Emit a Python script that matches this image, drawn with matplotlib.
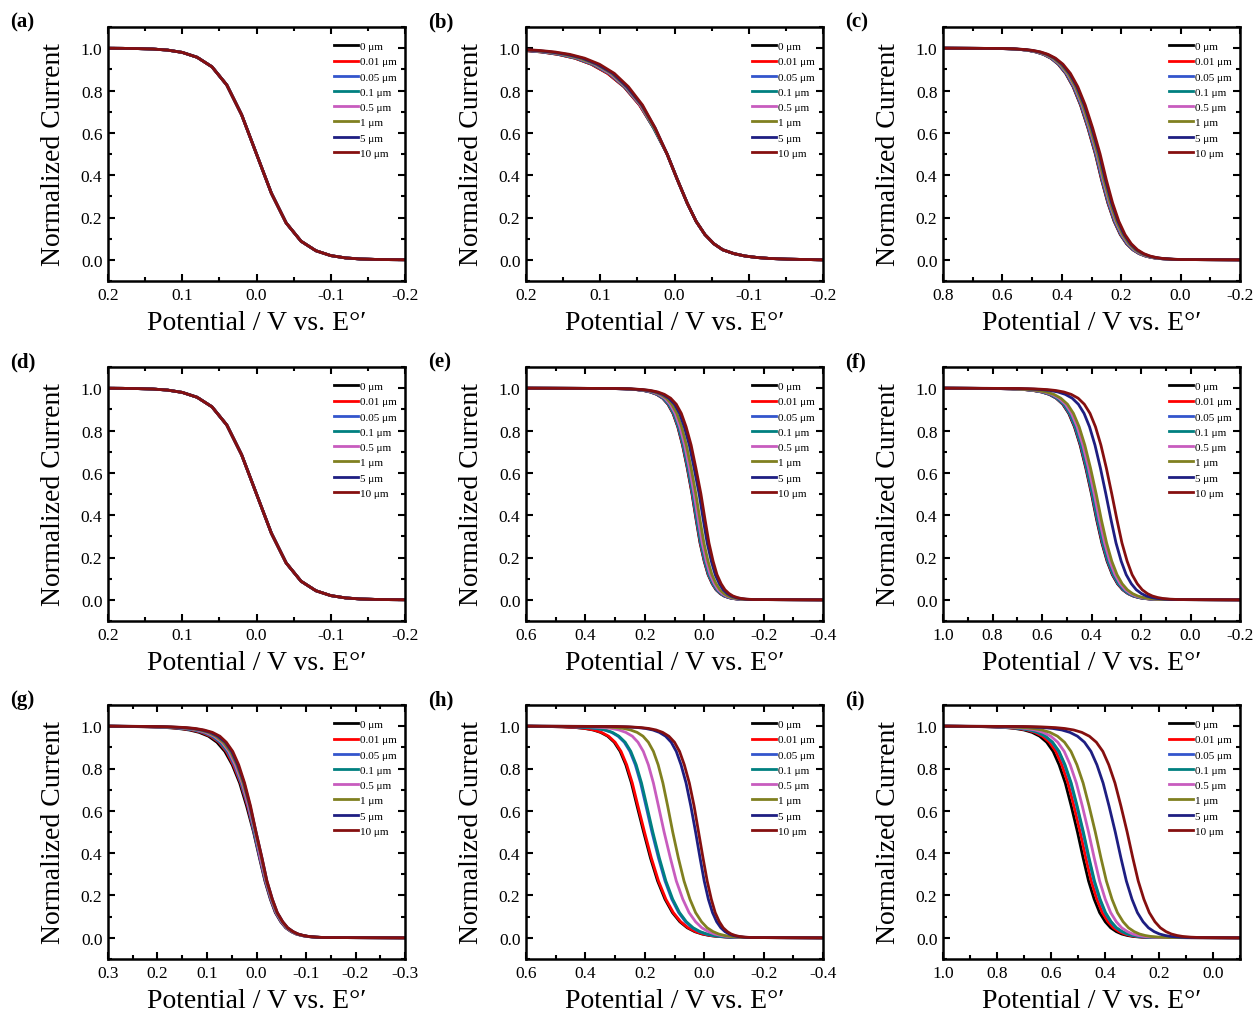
import matplotlib
matplotlib.use('Agg')
import matplotlib.pyplot as plt
from matplotlib.ticker import MultipleLocator, FuncFormatter

plt.rcParams['font.family'] = ['Liberation Serif', 'DejaVu Serif']
plt.rcParams['axes.unicode_minus'] = False

# ---------------- series ----------------
labels = ['0 μm', '0.01 μm', '0.05 μm', '0.1 μm', '0.5 μm', '1 μm', '5 μm', '10 μm']
colors = ['#000000', '#FF0000', '#3355CC', '#008080', '#C85CBE', '#808020', '#1E1E82', '#850F0F']

# ---------------- panel (a): potential grid / current (all eight series coincide) ----------------
pot_a = [0.20, 0.18, 0.16, 0.14, 0.12, 0.10, 0.08, 0.06, 0.04, 0.02, 0.00,
         -0.02, -0.04, -0.06, -0.08, -0.10, -0.12, -0.14, -0.16, -0.18, -0.20]
cur_a = [0.9996, 0.9991, 0.998, 0.996, 0.991, 0.980, 0.957, 0.912, 0.826, 0.685, 0.500,
         0.315, 0.174, 0.088, 0.043, 0.020, 0.009, 0.004, 0.002, 0.001, 0.0004]

# ---------------- panel (d): potential grid / current (all eight series coincide) ----------------
pot_d = [0.20, 0.18, 0.16, 0.14, 0.12, 0.10, 0.08, 0.06, 0.04, 0.02, 0.00,
         -0.02, -0.04, -0.06, -0.08, -0.10, -0.12, -0.14, -0.16, -0.18, -0.20]
cur_d = [0.9996, 0.9991, 0.998, 0.996, 0.991, 0.980, 0.957, 0.912, 0.826, 0.685, 0.500,
         0.315, 0.174, 0.088, 0.043, 0.020, 0.009, 0.004, 0.002, 0.001, 0.0004]

# ---------------- other panels: current levels and the potential (V) of each series at them ----------------
levels = [1.0, 0.9985, 0.9968, 0.9933, 0.9890, 0.9820, 0.9707, 0.9526, 0.9241, 0.8808, 0.8176, 0.7311, 0.6225,
          0.5, 0.3775, 0.2689, 0.1824, 0.1192, 0.0759, 0.0474, 0.0293, 0.0180, 0.0110, 0.0067, 0.0032, 0.0015, 0.0]
levels_b = levels[1:]

pot_b = [
    [0.291, 0.258, 0.224, 0.202, 0.179, 0.157, 0.134, 0.112, 0.090, 0.068, 0.047, 0.028, 0.010,
     -0.004, -0.017, -0.029, -0.041, -0.053, -0.065, -0.080, -0.095, -0.111, -0.127, -0.152, -0.177, -0.2],
    [0.291, 0.258, 0.224, 0.202, 0.179, 0.157, 0.134, 0.112, 0.090, 0.068, 0.047, 0.028, 0.010,
     -0.004, -0.017, -0.029, -0.041, -0.053, -0.065, -0.080, -0.095, -0.111, -0.127, -0.152, -0.177, -0.2],
    [0.286, 0.253, 0.220, 0.198, 0.176, 0.154, 0.132, 0.110, 0.088, 0.067, 0.046, 0.028, 0.010,
     -0.004, -0.017, -0.029, -0.041, -0.053, -0.065, -0.080, -0.095, -0.111, -0.127, -0.152, -0.177, -0.2],
    [0.286, 0.253, 0.220, 0.198, 0.176, 0.154, 0.132, 0.110, 0.088, 0.067, 0.046, 0.028, 0.010,
     -0.004, -0.017, -0.029, -0.041, -0.053, -0.065, -0.080, -0.095, -0.111, -0.127, -0.152, -0.177, -0.2],
    [0.281, 0.249, 0.216, 0.195, 0.173, 0.151, 0.130, 0.108, 0.087, 0.066, 0.046, 0.027, 0.010,
     -0.004, -0.017, -0.029, -0.041, -0.053, -0.065, -0.080, -0.095, -0.111, -0.127, -0.152, -0.177, -0.2],
    [0.276, 0.244, 0.212, 0.191, 0.170, 0.149, 0.128, 0.106, 0.085, 0.065, 0.045, 0.027, 0.010,
     -0.004, -0.017, -0.029, -0.041, -0.053, -0.065, -0.080, -0.095, -0.111, -0.127, -0.152, -0.177, -0.2],
    [0.269, 0.238, 0.207, 0.186, 0.166, 0.145, 0.124, 0.104, 0.083, 0.064, 0.044, 0.026, 0.010,
     -0.004, -0.017, -0.029, -0.041, -0.053, -0.065, -0.080, -0.095, -0.111, -0.127, -0.152, -0.177, -0.2],
    [0.261, 0.231, 0.201, 0.181, 0.161, 0.141, 0.121, 0.101, 0.081, 0.062, 0.043, 0.026, 0.010,
     -0.004, -0.017, -0.029, -0.041, -0.053, -0.065, -0.080, -0.095, -0.111, -0.127, -0.152, -0.177, -0.2],
]

pot_c = [
    [0.8, 0.612, 0.575, 0.537, 0.512, 0.487, 0.462, 0.437, 0.412, 0.387, 0.362, 0.337, 0.312, 0.287,
     0.266, 0.245, 0.224, 0.203, 0.182, 0.161, 0.140, 0.119, 0.098, 0.077, 0.045, 0.014, -0.2],
    [0.8, 0.611, 0.574, 0.536, 0.511, 0.486, 0.461, 0.436, 0.411, 0.386, 0.361, 0.336, 0.311, 0.286,
     0.265, 0.244, 0.223, 0.202, 0.181, 0.160, 0.139, 0.118, 0.097, 0.076, 0.044, 0.013, -0.2],
    [0.8, 0.610, 0.573, 0.535, 0.510, 0.485, 0.460, 0.435, 0.410, 0.385, 0.360, 0.335, 0.310, 0.285,
     0.264, 0.243, 0.222, 0.201, 0.180, 0.159, 0.138, 0.117, 0.096, 0.075, 0.043, 0.012, -0.2],
    [0.8, 0.609, 0.572, 0.534, 0.509, 0.484, 0.459, 0.434, 0.409, 0.384, 0.359, 0.334, 0.309, 0.284,
     0.263, 0.242, 0.221, 0.200, 0.179, 0.158, 0.137, 0.116, 0.095, 0.074, 0.042, 0.011, -0.2],
    [0.8, 0.607, 0.570, 0.532, 0.507, 0.482, 0.457, 0.432, 0.407, 0.382, 0.357, 0.332, 0.307, 0.282,
     0.261, 0.240, 0.219, 0.198, 0.177, 0.156, 0.135, 0.114, 0.093, 0.072, 0.040, 0.009, -0.2],
    [0.8, 0.604, 0.567, 0.529, 0.504, 0.479, 0.454, 0.429, 0.404, 0.379, 0.354, 0.329, 0.304, 0.279,
     0.258, 0.237, 0.216, 0.195, 0.174, 0.153, 0.132, 0.111, 0.090, 0.069, 0.037, 0.006, -0.2],
    [0.8, 0.599, 0.562, 0.524, 0.499, 0.474, 0.449, 0.424, 0.399, 0.374, 0.349, 0.324, 0.299, 0.274,
     0.253, 0.232, 0.211, 0.190, 0.169, 0.148, 0.127, 0.106, 0.085, 0.064, 0.032, 0.001, -0.2],
    [0.8, 0.596, 0.559, 0.521, 0.496, 0.471, 0.446, 0.421, 0.396, 0.371, 0.346, 0.321, 0.296, 0.271,
     0.250, 0.229, 0.208, 0.187, 0.166, 0.145, 0.124, 0.103, 0.082, 0.061, 0.029, -0.002, -0.2],
]

pot_e = [
    [0.6, 0.314, 0.270, 0.230, 0.205, 0.182, 0.160, 0.140, 0.122, 0.105, 0.089, 0.073, 0.057, 0.041,
     0.027, 0.014, 0.000, -0.013, -0.027, -0.040, -0.054, -0.067, -0.081, -0.094, -0.114, -0.135, -0.4],
    [0.6, 0.313, 0.269, 0.229, 0.204, 0.181, 0.159, 0.139, 0.121, 0.104, 0.088, 0.072, 0.056, 0.040,
     0.026, 0.013, -0.001, -0.014, -0.028, -0.041, -0.055, -0.068, -0.082, -0.095, -0.115, -0.136, -0.4],
    [0.6, 0.312, 0.268, 0.228, 0.203, 0.180, 0.158, 0.138, 0.120, 0.103, 0.087, 0.071, 0.055, 0.039,
     0.025, 0.012, -0.002, -0.015, -0.029, -0.042, -0.056, -0.069, -0.083, -0.096, -0.116, -0.137, -0.4],
    [0.6, 0.311, 0.267, 0.227, 0.202, 0.179, 0.157, 0.137, 0.119, 0.102, 0.086, 0.070, 0.054, 0.038,
     0.024, 0.011, -0.003, -0.016, -0.030, -0.043, -0.057, -0.070, -0.084, -0.097, -0.117, -0.138, -0.4],
    [0.6, 0.307, 0.263, 0.223, 0.198, 0.175, 0.153, 0.133, 0.115, 0.098, 0.082, 0.066, 0.050, 0.034,
     0.020, 0.007, -0.007, -0.020, -0.034, -0.047, -0.061, -0.074, -0.088, -0.101, -0.121, -0.142, -0.4],
    [0.6, 0.301, 0.257, 0.217, 0.192, 0.169, 0.147, 0.127, 0.109, 0.092, 0.076, 0.060, 0.044, 0.028,
     0.014, 0.001, -0.013, -0.026, -0.040, -0.053, -0.067, -0.080, -0.094, -0.107, -0.127, -0.148, -0.4],
    [0.6, 0.298, 0.253, 0.212, 0.186, 0.162, 0.140, 0.119, 0.100, 0.083, 0.067, 0.050, 0.034, 0.017,
     0.003, -0.010, -0.024, -0.037, -0.051, -0.064, -0.078, -0.091, -0.105, -0.118, -0.138, -0.159, -0.4],
    [0.6, 0.292, 0.247, 0.206, 0.180, 0.156, 0.134, 0.113, 0.094, 0.077, 0.061, 0.044, 0.028, 0.011,
     -0.003, -0.016, -0.030, -0.043, -0.057, -0.070, -0.084, -0.097, -0.111, -0.124, -0.144, -0.165, -0.4],
]

pot_f = [
    [1.0, 0.792, 0.729, 0.671, 0.636, 0.602, 0.571, 0.543, 0.516, 0.492, 0.469, 0.446, 0.423, 0.400,
     0.379, 0.358, 0.337, 0.316, 0.295, 0.274, 0.253, 0.232, 0.211, 0.190, 0.158, 0.127, -0.2],
    [1.0, 0.790, 0.727, 0.669, 0.634, 0.600, 0.569, 0.541, 0.514, 0.490, 0.467, 0.444, 0.421, 0.398,
     0.377, 0.356, 0.335, 0.314, 0.293, 0.272, 0.251, 0.230, 0.209, 0.188, 0.156, 0.125, -0.2],
    [1.0, 0.789, 0.726, 0.668, 0.633, 0.599, 0.568, 0.540, 0.513, 0.489, 0.466, 0.443, 0.420, 0.397,
     0.376, 0.355, 0.334, 0.313, 0.292, 0.271, 0.250, 0.229, 0.208, 0.187, 0.155, 0.124, -0.2],
    [1.0, 0.787, 0.724, 0.666, 0.631, 0.597, 0.566, 0.538, 0.511, 0.487, 0.464, 0.441, 0.418, 0.395,
     0.374, 0.353, 0.332, 0.311, 0.290, 0.269, 0.248, 0.227, 0.206, 0.185, 0.153, 0.122, -0.2],
    [1.0, 0.781, 0.718, 0.660, 0.625, 0.591, 0.560, 0.532, 0.505, 0.481, 0.458, 0.435, 0.412, 0.389,
     0.368, 0.347, 0.326, 0.305, 0.284, 0.263, 0.242, 0.221, 0.200, 0.179, 0.147, 0.116, -0.2],
    [1.0, 0.773, 0.710, 0.652, 0.617, 0.583, 0.552, 0.524, 0.497, 0.473, 0.450, 0.427, 0.404, 0.381,
     0.360, 0.339, 0.318, 0.297, 0.276, 0.255, 0.234, 0.213, 0.192, 0.171, 0.139, 0.108, -0.2],
    [1.0, 0.717, 0.657, 0.602, 0.568, 0.536, 0.506, 0.478, 0.453, 0.430, 0.408, 0.386, 0.364, 0.342,
     0.321, 0.301, 0.280, 0.260, 0.239, 0.219, 0.198, 0.178, 0.157, 0.137, 0.106, 0.075, -0.2],
    [1.0, 0.693, 0.633, 0.578, 0.544, 0.512, 0.482, 0.454, 0.429, 0.406, 0.384, 0.362, 0.340, 0.318,
     0.297, 0.277, 0.256, 0.236, 0.215, 0.195, 0.174, 0.154, 0.133, 0.113, 0.082, 0.051, -0.2],
]

pot_g = [
    [0.3, 0.260, 0.219, 0.181, 0.158, 0.136, 0.116, 0.097, 0.080, 0.064, 0.049, 0.034, 0.020, 0.006,
     -0.006, -0.017, -0.028, -0.038, -0.049, -0.059, -0.070, -0.080, -0.091, -0.101, -0.117, -0.133, -0.3],
    [0.3, 0.250, 0.211, 0.174, 0.152, 0.131, 0.111, 0.093, 0.076, 0.061, 0.047, 0.032, 0.018, 0.005,
     -0.007, -0.018, -0.029, -0.039, -0.050, -0.060, -0.071, -0.081, -0.092, -0.102, -0.118, -0.134, -0.3],
    [0.3, 0.242, 0.203, 0.168, 0.147, 0.126, 0.107, 0.090, 0.074, 0.059, 0.045, 0.031, 0.017, 0.005,
     -0.007, -0.018, -0.029, -0.039, -0.050, -0.060, -0.071, -0.081, -0.092, -0.102, -0.118, -0.134, -0.3],
    [0.3, 0.241, 0.202, 0.167, 0.146, 0.125, 0.106, 0.089, 0.073, 0.058, 0.044, 0.030, 0.016, 0.004,
     -0.008, -0.019, -0.030, -0.040, -0.051, -0.061, -0.072, -0.082, -0.093, -0.103, -0.119, -0.135, -0.3],
    [0.3, 0.232, 0.195, 0.161, 0.140, 0.121, 0.103, 0.086, 0.070, 0.056, 0.043, 0.029, 0.016, 0.003,
     -0.008, -0.019, -0.030, -0.040, -0.051, -0.061, -0.072, -0.082, -0.093, -0.103, -0.119, -0.135, -0.3],
    [0.3, 0.223, 0.187, 0.154, 0.134, 0.115, 0.098, 0.082, 0.067, 0.053, 0.040, 0.027, 0.014, 0.002,
     -0.010, -0.020, -0.031, -0.041, -0.052, -0.062, -0.073, -0.083, -0.094, -0.104, -0.120, -0.136, -0.3],
    [0.3, 0.213, 0.179, 0.148, 0.128, 0.110, 0.093, 0.078, 0.063, 0.050, 0.038, 0.025, 0.013, 0.001,
     -0.011, -0.021, -0.032, -0.042, -0.053, -0.063, -0.074, -0.084, -0.095, -0.105, -0.121, -0.137, -0.3],
    [0.3, 0.205, 0.172, 0.142, 0.123, 0.106, 0.089, 0.074, 0.061, 0.048, 0.036, 0.024, 0.012, 0.001,
     -0.011, -0.021, -0.032, -0.042, -0.053, -0.063, -0.074, -0.084, -0.095, -0.105, -0.121, -0.137, -0.3],
]

pot_h = [
    [0.6, 0.531, 0.479, 0.431, 0.402, 0.374, 0.349, 0.325, 0.303, 0.283, 0.264, 0.245, 0.226, 0.204,
     0.181, 0.157, 0.132, 0.107, 0.082, 0.057, 0.032, 0.007, -0.018, -0.043, -0.081, -0.118, -0.4],
    [0.6, 0.528, 0.476, 0.428, 0.399, 0.371, 0.346, 0.322, 0.300, 0.280, 0.261, 0.242, 0.223, 0.201,
     0.178, 0.154, 0.129, 0.104, 0.079, 0.054, 0.029, 0.004, -0.021, -0.046, -0.084, -0.121, -0.4],
    [0.6, 0.485, 0.436, 0.390, 0.363, 0.336, 0.312, 0.290, 0.269, 0.250, 0.232, 0.214, 0.196, 0.176,
     0.154, 0.132, 0.109, 0.086, 0.063, 0.040, 0.017, -0.006, -0.029, -0.052, -0.087, -0.121, -0.4],
    [0.6, 0.482, 0.433, 0.387, 0.360, 0.333, 0.309, 0.287, 0.266, 0.247, 0.229, 0.211, 0.193, 0.173,
     0.151, 0.129, 0.106, 0.083, 0.060, 0.037, 0.014, -0.009, -0.032, -0.055, -0.090, -0.124, -0.4],
    [0.6, 0.427, 0.380, 0.338, 0.311, 0.287, 0.264, 0.242, 0.223, 0.205, 0.188, 0.171, 0.154, 0.135,
     0.114, 0.094, 0.072, 0.051, 0.029, 0.008, -0.014, -0.035, -0.057, -0.078, -0.110, -0.143, -0.4],
    [0.6, 0.380, 0.336, 0.296, 0.271, 0.248, 0.226, 0.206, 0.188, 0.171, 0.155, 0.139, 0.123, 0.106,
     0.087, 0.068, 0.048, 0.029, 0.009, -0.010, -0.030, -0.049, -0.069, -0.088, -0.117, -0.147, -0.4],
    [0.6, 0.309, 0.264, 0.223, 0.197, 0.173, 0.151, 0.130, 0.111, 0.094, 0.078, 0.061, 0.045, 0.029,
     0.014, 0.000, -0.014, -0.028, -0.042, -0.056, -0.070, -0.084, -0.098, -0.112, -0.133, -0.154, -0.4],
    [0.6, 0.298, 0.253, 0.212, 0.186, 0.162, 0.140, 0.119, 0.100, 0.083, 0.067, 0.050, 0.034, 0.019,
     0.004, -0.010, -0.024, -0.037, -0.051, -0.064, -0.078, -0.091, -0.105, -0.118, -0.138, -0.159, -0.4],
]

pot_i = [
    [1.0, 0.886, 0.824, 0.768, 0.733, 0.700, 0.670, 0.642, 0.616, 0.592, 0.570, 0.547, 0.525, 0.502,
     0.481, 0.461, 0.440, 0.420, 0.399, 0.379, 0.358, 0.338, 0.317, 0.297, 0.266, 0.235, -0.1],
    [1.0, 0.876, 0.814, 0.758, 0.723, 0.690, 0.660, 0.632, 0.606, 0.582, 0.560, 0.537, 0.515, 0.492,
     0.471, 0.451, 0.430, 0.410, 0.389, 0.369, 0.348, 0.328, 0.307, 0.287, 0.256, 0.225, -0.1],
    [1.0, 0.866, 0.804, 0.748, 0.713, 0.680, 0.650, 0.622, 0.596, 0.572, 0.550, 0.527, 0.505, 0.482,
     0.461, 0.441, 0.420, 0.400, 0.379, 0.359, 0.338, 0.318, 0.297, 0.277, 0.246, 0.215, -0.1],
    [1.0, 0.864, 0.802, 0.746, 0.711, 0.678, 0.648, 0.620, 0.594, 0.570, 0.548, 0.525, 0.503, 0.480,
     0.459, 0.439, 0.418, 0.398, 0.377, 0.357, 0.336, 0.316, 0.295, 0.275, 0.244, 0.213, -0.1],
    [1.0, 0.845, 0.783, 0.727, 0.692, 0.659, 0.629, 0.601, 0.575, 0.551, 0.529, 0.506, 0.484, 0.461,
     0.440, 0.420, 0.399, 0.379, 0.358, 0.338, 0.317, 0.297, 0.276, 0.256, 0.225, 0.194, -0.1],
    [1.0, 0.820, 0.758, 0.702, 0.667, 0.634, 0.604, 0.576, 0.550, 0.526, 0.504, 0.481, 0.459, 0.436,
     0.415, 0.395, 0.374, 0.354, 0.333, 0.313, 0.292, 0.272, 0.251, 0.231, 0.200, 0.169, -0.1],
    [1.0, 0.746, 0.684, 0.628, 0.593, 0.560, 0.530, 0.502, 0.476, 0.452, 0.430, 0.407, 0.385, 0.362,
     0.341, 0.321, 0.300, 0.280, 0.259, 0.239, 0.218, 0.198, 0.177, 0.157, 0.126, 0.095, -0.1],
    [1.0, 0.702, 0.640, 0.584, 0.549, 0.516, 0.486, 0.458, 0.432, 0.408, 0.386, 0.363, 0.341, 0.318,
     0.297, 0.277, 0.256, 0.236, 0.215, 0.195, 0.174, 0.154, 0.133, 0.113, 0.082, 0.051, -0.1],
]

# x-axis ranges (left, right) and major tick spacing per panel
xlims = {'a': (0.2, -0.2), 'b': (0.2, -0.2), 'c': (0.8, -0.2),
         'd': (0.2, -0.2), 'e': (0.6, -0.4), 'f': (1.0, -0.2),
         'g': (0.3, -0.3), 'h': (0.6, -0.4), 'i': (1.0, -0.1)}
xmajor = {'a': 0.1, 'b': 0.1, 'c': 0.2, 'd': 0.1, 'e': 0.2, 'f': 0.2, 'g': 0.1, 'h': 0.2, 'i': 0.2}

curves = {
    'a': [(pot_a, cur_a)] * 8,
    'b': [(p, levels_b) for p in pot_b],
    'c': [(p, levels) for p in pot_c],
    'd': [(pot_d, cur_d)] * 8,
    'e': [(p, levels) for p in pot_e],
    'f': [(p, levels) for p in pot_f],
    'g': [(p, levels) for p in pot_g],
    'h': [(p, levels) for p in pot_h],
    'i': [(p, levels) for p in pot_i],
}

W, H = 1256, 1012
fig = plt.figure(figsize=(W / 100, H / 100), dpi=100)

col_left = [108, 526, 943]
row_top = [28, 368, 706]
ax_w, ax_h = 297, 254

fmt = FuncFormatter(lambda v, p: f"{(0.0 if abs(v) < 1e-9 else v):.1f}")

for k, name in enumerate('abcdefghi'):
    r, c = divmod(k, 3)
    x0 = col_left[c]
    y0 = row_top[r]
    ax = fig.add_axes([x0 / W, 1 - (y0 + ax_h) / H, ax_w / W, ax_h / H])
    for (xs, ys), lab, col in zip(curves[name], labels, colors):
        ax.plot(xs, ys, color=col, lw=2.0, label=lab, solid_joinstyle='round')
    ax.set_xlim(*xlims[name])
    ax.set_ylim(-0.1, 1.1)
    ax.xaxis.set_major_locator(MultipleLocator(xmajor[name]))
    ax.xaxis.set_minor_locator(MultipleLocator(xmajor[name] / 2))
    ax.yaxis.set_major_locator(MultipleLocator(0.2))
    ax.yaxis.set_minor_locator(MultipleLocator(0.1))
    ax.xaxis.set_major_formatter(fmt)
    ax.yaxis.set_major_formatter(fmt)
    ax.tick_params(which='both', direction='in', top=True, right=True, width=1.5, labelsize=12.5)
    ax.tick_params(which='major', length=5, pad=4)
    ax.tick_params(which='minor', length=3)
    for sp in ax.spines.values():
        sp.set_linewidth(1.8)
    ax.set_ylabel('Normalized Current', fontsize=20, labelpad=11)
    ax.set_xlabel('Potential / V vs. E°′', fontsize=20, labelpad=5.5)
    leg = ax.legend(frameon=False, loc='upper left', bbox_to_anchor=(0.762, 0.943),
                    borderaxespad=0, borderpad=0, fontsize=8, handlelength=2.15,
                    handletextpad=0.15, labelspacing=0.49)
    for ln in leg.get_lines():
        ln.set_linewidth(2.0)
    fig.text((x0 - 98) / W, 1 - (y0 - 6) / H, f'({name})', fontsize=15, fontweight='bold',
             ha='left', va='center')

fig.savefig('out.png', dpi=100)
